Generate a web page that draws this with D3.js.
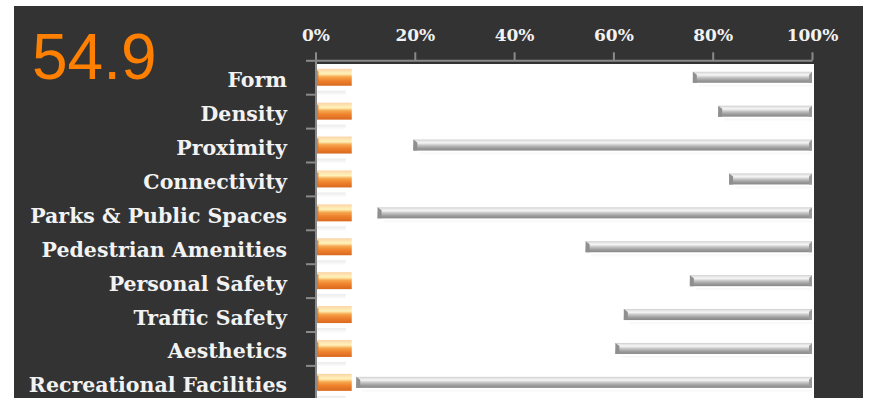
<!DOCTYPE html>
<html>
<head>
<meta charset="utf-8">
<script src="https://cdn.jsdelivr.net/npm/d3@7"></script>
<style>
  html, body { margin: 0; padding: 0; background: #ffffff; }
  svg { display: block; }
</style>
</head>
<body>
<svg id="chart" width="869" height="398"></svg>
<script>
// Walkability index: score per dimension (gap shown from score to 100%)
const categories = [
  "Form", "Density", "Proximity", "Connectivity", "Parks & Public Spaces",
  "Pedestrian Amenities", "Personal Safety", "Traffic Safety", "Aesthetics",
  "Recreational Facilities"
];
const scores = [76, 81.1, 19.7, 83.3, 12.5, 54.4, 75.4, 62.1, 60.4, 8.2];
const markerValues = [7.3, 7.3, 7.3, 7.3, 7.3, 7.3, 7.3, 7.3, 7.3, 7.3];
const xTicks = [0, 20, 40, 60, 80, 100];
const overallScore = "54.9";

const svg = d3.select("#chart");
const W = 869, H = 398;

// dark panel
svg.append("rect").attr("x", 14).attr("y", 6).attr("width", 849).attr("height", H - 6)
  .attr("fill", "#333333");

const x = d3.scaleLinear().domain([0, 100]).range([315.5, 812]);
const y = d3.scaleBand().domain(categories).range([60.3, 399.3]).padding(0);
const yIdx = d3.scaleLinear().domain([0, categories.length]).range([60.3, 399.3]);

// white plot area
svg.append("rect").attr("x", x(0)).attr("y", 64).attr("width", 814 - x(0)).attr("height", H - 64)
  .attr("fill", "#ffffff");

const defs = svg.append("defs");
const orangeGrad = defs.append("linearGradient").attr("id", "gOrange")
  .attr("x1", 0).attr("y1", 0).attr("x2", 0).attr("y2", 1);
[[0, "#fbd3a6"], [0.14, "#fde3b0"], [0.3, "#fff2b8"], [0.48, "#f6a54c"],
 [0.7, "#ef822d"], [1, "#d8681f"]].forEach(([o, c]) =>
  orangeGrad.append("stop").attr("offset", o).attr("stop-color", c));

const greyGrad = defs.append("linearGradient").attr("id", "gGrey")
  .attr("x1", 0).attr("y1", 0).attr("x2", 0).attr("y2", 1);
[[0, "#cbcbcb"], [0.12, "#e4e4e4"], [0.3, "#f5f5f5"], [0.5, "#c8c8c8"],
 [0.75, "#9f9f9f"], [1, "#868686"]].forEach(([o, c]) =>
  greyGrad.append("stop").attr("offset", o).attr("stop-color", c));

const reflGrad = defs.append("linearGradient").attr("id", "gRefl")
  .attr("x1", 0).attr("y1", 0).attr("x2", 0).attr("y2", 1);
[[0, "#e6e6e6"], [1, "#ffffff"]].forEach(([o, c]) =>
  reflGrad.append("stop").attr("offset", o).attr("stop-color", c));

const rows = categories.map((c, i) => ({ cat: c, score: scores[i], marker: markerValues[i] }));
const cy = d => y(d.cat) + y.bandwidth() / 2;

const g = svg.append("g");

// faint reflections under the bars
g.selectAll(".reflO").data(rows).join("rect")
  .attr("x", d => x(0) + 1).attr("y", d => cy(d) + 13.5)
  .attr("width", d => x(d.marker) - x(0) - 7).attr("height", 5)
  .attr("fill", "url(#gRefl)").attr("opacity", 0.8);
g.selectAll(".reflG").data(rows).join("rect")
  .attr("x", d => x(d.score) + 6).attr("y", d => cy(d) + 7.5)
  .attr("width", d => x(100) - x(d.score) - 6).attr("height", 3)
  .attr("fill", "url(#gRefl)").attr("opacity", 0.35);

// orange marker bars
g.selectAll(".barO").data(rows).join("rect")
  .attr("x", x(0)).attr("y", d => cy(d) - 8.5)
  .attr("width", d => x(d.marker) - x(0)).attr("height", 17)
  .attr("fill", "url(#gOrange)");
g.selectAll(".bevO").data(rows).join("path")
  .attr("d", d => `M${x(0)},${cy(d) - 8.5}L${x(0) + 3},${cy(d) - 5.5}L${x(0) + 3},${cy(d) + 5.5}L${x(0)},${cy(d) + 8.5}Z`)
  .attr("fill", "#e0701f").attr("opacity", 0.8);

// grey gap bars from score to 100%
g.selectAll(".barG").data(rows).join("rect")
  .attr("x", d => x(d.score)).attr("y", d => cy(d) - 5.5)
  .attr("width", d => x(100) - x(d.score)).attr("height", 11)
  .attr("fill", "url(#gGrey)");
g.selectAll(".bevGL").data(rows).join("path")
  .attr("d", d => { const a = x(d.score), t = cy(d) - 5.5, b = cy(d) + 5.5;
    return `M${a},${t}L${a + 4},${t + 3}L${a + 4},${b}L${a},${b}Z`; })
  .attr("fill", "#8f8f8f");
g.selectAll(".bevGR").data(rows).join("path")
  .attr("d", d => { const a = x(100), t = cy(d) - 5.5, b = cy(d) + 5.5;
    return `M${a},${t}L${a - 3},${t + 3}L${a - 3},${b}L${a},${b}Z`; })
  .attr("fill", "#9a9a9a");

// axes
const fontFam = "'DejaVu Serif', serif";
const xAxis = svg.append("g").attr("transform", `translate(0,60.3)`)
  .call(d3.axisTop(x).tickValues(xTicks).tickFormat(d => d + "%").tickSize(8).tickSizeOuter(0).tickPadding(11));
const yAxis = svg.append("g").attr("transform", `translate(${x(0)},0)`)
  .call(d3.axisLeft(yIdx).tickValues(d3.range(categories.length + 1)).tickFormat("").tickSize(9.5).tickSizeOuter(0));

[xAxis, yAxis].forEach(a => {
  a.selectAll(".domain").attr("stroke", "#8a8a8a").attr("stroke-width", 2);
  a.selectAll(".tick line").attr("stroke", "#8a8a8a").attr("stroke-width", 2);
});
xAxis.selectAll(".tick text")
  .attr("fill", "#f2f2f2").attr("font-family", fontFam).attr("font-weight", "bold")
  .attr("font-size", 17);

// category labels
svg.append("g").selectAll("text").data(rows).join("text")
  .attr("x", 287).attr("y", d => cy(d) + 10)
  .attr("text-anchor", "end")
  .attr("fill", "#f2f2f2").attr("font-family", fontFam).attr("font-weight", "bold")
  .attr("font-size", 20.5)
  .text(d => d.cat);

// overall index
svg.append("text").attr("x", 32).attr("y", 78.5)
  .attr("fill", "#ff8000").attr("font-family", "'Liberation Sans', Arial, sans-serif")
  .attr("font-size", 64).text(overallScore);
</script>
</body>
</html>
